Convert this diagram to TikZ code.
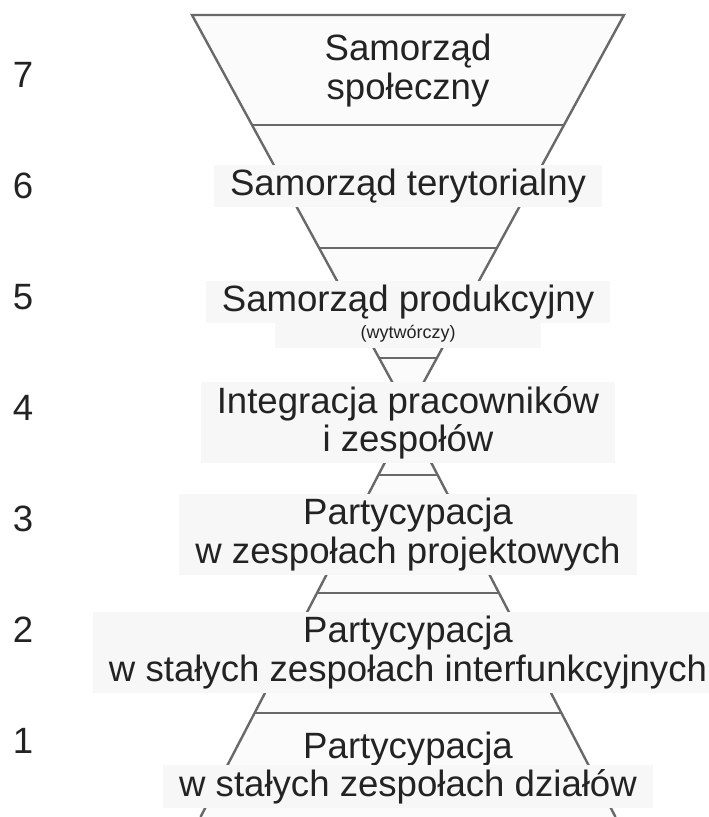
\documentclass[tikz,border=0pt]{standalone}
\usepackage{fontspec}
\setmainfont{Liberation Sans}
\usetikzlibrary{positioning}
\definecolor{ink}{RGB}{35,35,35}
\definecolor{rimgray}{RGB}{105,105,105}
\definecolor{paper}{RGB}{247,247,247}
\definecolor{inside}{RGB}{251,251,251}
\tikzset{
  lbl/.style={text=ink,align=center,font=\fontsize{18.3}{19.2}\selectfont,inner sep=0pt},
  cover/.style={lbl,fill=paper,inner xsep=8pt,inner ysep=2pt},
  level/.style={text=ink,font=\fontsize{18.3}{19.2}\selectfont},
  rim/.style={draw=rimgray,line width=1.2pt,line join=miter},
  tier/.style={draw=rimgray,line width=0.8pt},
}
\begin{document}
\begin{tikzpicture}[x=0.5pt,y=-0.5pt]
  \useasboundingbox (0,0) rectangle (708,817);
  \coordinate (apexup) at (408,411);
  \coordinate (apexlo) at (408,418);
  % upper funnel
  \fill[inside] (192,15) -- (624,15) -- (apexup) -- cycle;
  \draw[rim] (192,15) -- (624,15) -- (apexup) -- cycle;
  \foreach \y in {125,248,358}
    \draw[tier] ({408-0.5455*(411-\y)},\y) -- ({408+0.5455*(411-\y)},\y);
  % lower funnel
  \fill[inside] (200.5,817) -- (apexlo) -- (615.5,817) -- cycle;
  \draw[rim] (200.5,817) -- (apexlo) -- (615.5,817);
  \foreach \y in {475,593,713}
    \draw[tier] ({408-0.52*(\y-418)},\y) -- ({408+0.52*(\y-418)},\y);
  % labels
  \node[lbl] (row7) at (408,70.7) {Samorząd\\społeczny};
  \node[cover] (row6) at (408,185.6) {Samorząd terytorialny};
  \node[cover] (row5) at (408,301.6) {Samorząd produkcyjny};
  \node[cover,font=\fontsize{9}{10}\selectfont,inner sep=0pt,
    minimum width=133pt,minimum height=14pt] (row5sub) at (408,334) {(wytwórczy)};
  \node[cover] (row4) at (408,422.7) {Integracja pracowników\\i zespołów};
  \node[cover] (row3) at (408,534.7) {Partycypacja\\w zespołach projektowych};
  \node[cover] (row2) at (408,652.7) {Partycypacja\\w stałych zespołach interfunkcyjnych};
  \node[lbl] (row1) at (408,748.7) {Partycypacja};
  \node[cover] (row1b) at (408,786.7) {w stałych zespołach działów};
  % level numbers
  \foreach \n/\y in {7/75,6/186,5/297,4/408,3/519,2/630,1/741}
    \node[level] (num\n) at (23,\y) {\n};
\end{tikzpicture}
\end{document}
